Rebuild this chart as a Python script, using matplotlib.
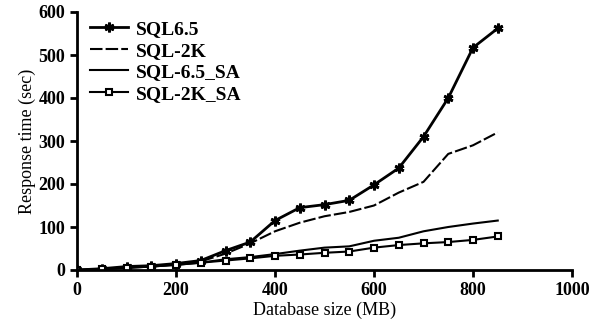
import matplotlib
matplotlib.use("Agg")
import matplotlib.pyplot as plt

sizes = [0, 50, 100, 150, 200, 250, 300, 350, 400, 450, 500, 550, 600, 650, 700, 750, 800, 850]
sql65 = [0, 3, 8, 10, 15, 22, 45, 65, 115, 145, 152, 162, 198, 237, 310, 400, 517, 562]
sql2k = [0, 2, 6, 9, 13, 20, 38, 62, 90, 110, 125, 135, 150, 180, 205, 270, 290, 320]
sql65_sa = [0, 2, 5, 8, 12, 17, 25, 30, 37, 45, 52, 55, 68, 75, 90, 100, 108, 115]
sql2k_sa = [0, 2, 5, 8, 12, 17, 22, 27, 33, 36, 40, 43, 52, 58, 62, 65, 70, 78]

plt.rcParams['font.family'] = ['Liberation Serif', 'DejaVu Serif']

fig = plt.figure(figsize=(5.91, 3.34), dpi=100)
ax = fig.add_axes([77/591, 1-270/334, (572-77)/591, (270-12)/334])

ax.plot(sizes, sql65, color='black', lw=2, marker=(6, 2, 0), ms=7, mew=2, label='SQL6.5')
ax.plot(sizes, sql2k, color='black', lw=1.5, ls=(0, (6, 1.5)), label='SQL-2K')
ax.plot(sizes, sql65_sa, color='black', lw=1.5, label='SQL-6.5_SA')
ax.plot(sizes, sql2k_sa, color='black', lw=1.5, marker='s', ms=5, mfc='white', mew=1.5, label='SQL-2K_SA')

ax.set_xlim(0, 1000)
ax.set_ylim(0, 600)
ax.set_xticks([0, 200, 400, 600, 800, 1000])
ax.set_yticks([0, 100, 200, 300, 400, 500, 600])
for s in ['top', 'right']:
    ax.spines[s].set_visible(False)
for s in ['left', 'bottom']:
    ax.spines[s].set_linewidth(2)
ax.tick_params(direction='out', width=2, length=5, labelsize=13)
for lab in ax.get_xticklabels() + ax.get_yticklabels():
    lab.set_fontweight('bold')
ax.set_xlabel('Database size (MB)', fontsize=13, labelpad=2)
ax.set_ylabel('Response time (sec)', fontsize=13, labelpad=2)

leg = ax.legend(loc='upper left', bbox_to_anchor=(-0.01, 1.035), frameon=False,
                prop={'size': 14, 'weight': 'bold'}, handlelength=2.0,
                labelspacing=0.2, handletextpad=0.4)

fig.savefig('out.png', dpi=100)
